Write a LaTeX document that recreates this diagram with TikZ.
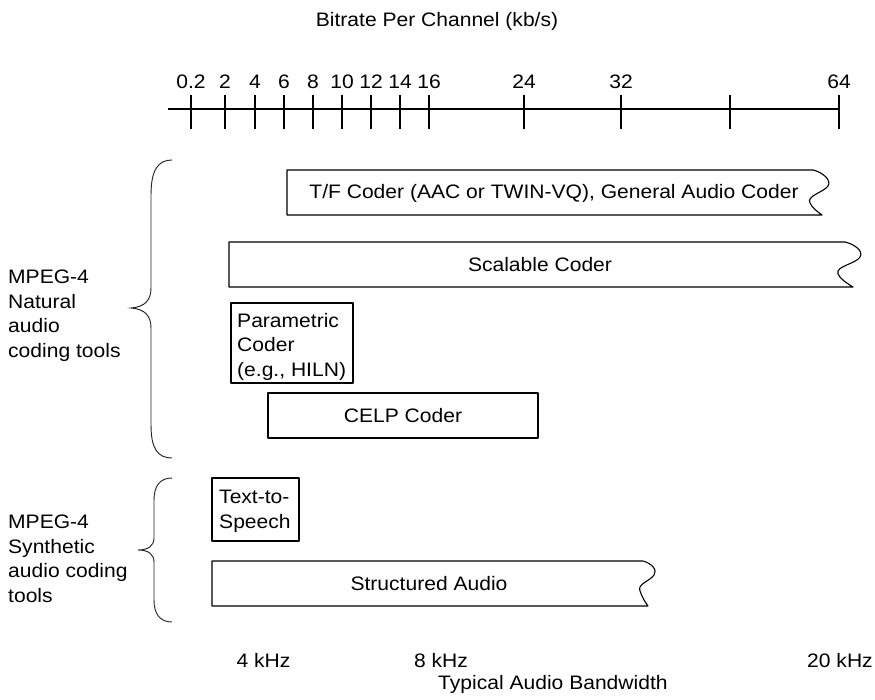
\documentclass[tikz,border=0pt]{standalone}
\usepackage{fontspec}
\setmainfont{Liberation Sans}[FakeStretch=1.08]
\begin{document}
\begin{tikzpicture}[x=1pt,y=-1pt,
  lbl/.style={inner sep=0pt, font=\fontsize{19.5}{24.5}\selectfont},
  mlbl/.style={lbl, align=left, anchor=north west},
  box/.style={draw=black, line width=1.1pt, line join=round},
  axisline/.style={draw=black, line width=1.1pt},
  brace/.style={draw=black!85, line width=0.95pt}]
\useasboundingbox (0,0) rectangle (875,700);

% title
\node[lbl, anchor=base] (title) at (437,27) {Bitrate Per Channel (kb/s)};

% axis
\coordinate (axL) at (168,109);
\coordinate (axR) at (839,109);
\draw[axisline] (axL) -- (axR);
\foreach \x/\l/\n in {191/0.2/a, 225/2/b, 255/4/c, 284/6/d, 313/8/e, 342/10/f, 371/12/g, 400/14/h, 429/16/i, 524/24/j, 621/32/k, 839/64/m} {
  \coordinate (tk\n) at (\x,95);
  \coordinate (tb\n) at (\x,129);
  \draw[axisline] (tk\n) -- (tb\n);
  \node[lbl, anchor=base] (lab\n) at (\x,89) {\l};
}
\coordinate (tkl) at (730,95);
\coordinate (tbl) at (730,129);
\draw[axisline] (tkl) -- (tbl);

% T/F coder
\draw[box] (287,215) -- (287,170) -- (813,170)
  .. controls (822,172) and (832,180) .. (828,186)
  .. controls (824,192) and (806,196) .. (810,203)
  .. controls (812,208) and (818,212) .. (822,215) -- cycle;
\node[lbl, anchor=base] (tf) at (554,199) {T/F Coder (AAC or TWIN-VQ), General Audio Coder};

% Scalable coder
\draw[box] (229,287) -- (229,242) -- (845,242)
  .. controls (854,244) and (864,251) .. (860,257)
  .. controls (856,264) and (835,266) .. (838,274)
  .. controls (840,279) and (848,284) .. (853,287) -- cycle;
\node[lbl, anchor=base] (sc) at (540,271.5) {Scalable Coder};

% Parametric coder
\draw[box] (231,303) rectangle (353,383);
\node[mlbl] (par) at (237,312.8) {Parametric\\Coder\\(e.g., HILN)};

% CELP coder
\draw[box] (268,393) rectangle (538,438);
\node[lbl, anchor=base] (celp) at (403,422.5) {CELP Coder};

% Text-to-Speech
\draw[box] (212,478) rectangle (299,541);
\node[mlbl] (tts) at (219,490.1) {Text-to-\\Speech};

% Structured Audio
\draw[box] (212,606) -- (212,561) -- (643,561)
  .. controls (651,563) and (658,570) .. (654,575)
  .. controls (650,581) and (637,584) .. (640,591)
  .. controls (642,597) and (645,602) .. (648,606) -- cycle;
\node[lbl, anchor=base] (sa) at (429,590.5) {Structured Audio};

% braces
\draw[brace] (172,160) .. controls (158,160) and (151,170) .. (151,195)
  -- (151,288) .. controls (151,300) and (145,307) .. (131,308)
  .. controls (145,309) and (151,316) .. (151,328)
  -- (151,425) .. controls (151,449) and (158,458) .. (172,458);
\draw[brace] (172,478) .. controls (160,478) and (154,486) .. (154,500)
  -- (154,538) .. controls (154,546) and (148,550) .. (138,550)
  .. controls (148,550) and (154,554) .. (154,562)
  -- (154,600) .. controls (154,614) and (160,622) .. (172,622);

% left labels
\node[mlbl] (nat) at (8,269.8) {MPEG-4\\Natural\\audio\\coding tools};
\node[mlbl] (syn) at (8,514.8) {MPEG-4\\Synthetic\\audio coding\\tools};

% bottom labels
\node[lbl, anchor=base] (k4) at (263.5,667) {4 kHz};
\node[lbl, anchor=base] (k8) at (441,667) {8 kHz};
\node[lbl, anchor=base] (k20) at (840,667) {20 kHz};
\node[lbl, anchor=base west] (bw) at (438,689) {Typical Audio Bandwidth};
\end{tikzpicture}
\end{document}
